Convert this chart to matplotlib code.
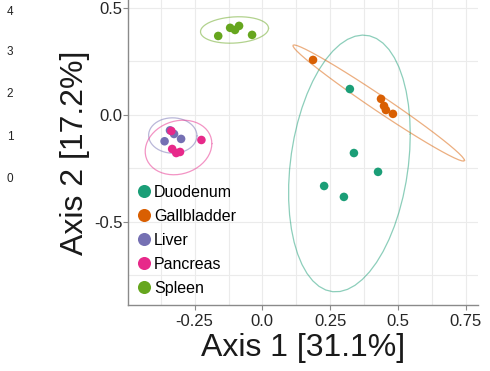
import numpy as np
import matplotlib
matplotlib.use("Agg")
import matplotlib.pyplot as plt
from matplotlib.lines import Line2D

plt.rcParams['font.family'] = ['Liberation Sans', 'DejaVu Sans']

groups = ["Duodenum", "Gallbladder", "Liver", "Pancreas", "Spleen"]
colors = ["#1B9E77", "#D95F02", "#7570B3", "#E7298A", "#66A61E"]

duodenum_x = [0.323, 0.338, 0.228, 0.301, 0.427]
duodenum_y = [0.121, -0.178, -0.332, -0.383, -0.266]
gallbladder_x = [0.187, 0.438, 0.449, 0.456, 0.482]
gallbladder_y = [0.257, 0.075, 0.042, 0.023, 0.005]
liver_x = [-0.361, -0.326, -0.300, -0.341]
liver_y = [-0.123, -0.089, -0.112, -0.072]
pancreas_x = [-0.336, -0.225, -0.333, -0.318, -0.304]
pancreas_y = [-0.075, -0.117, -0.159, -0.178, -0.173]
spleen_x = [-0.163, -0.119, -0.101, -0.086, -0.038]
spleen_y = [0.369, 0.407, 0.397, 0.416, 0.374]

xs = [duodenum_x, gallbladder_x, liver_x, pancreas_x, spleen_x]
ys = [duodenum_y, gallbladder_y, liver_y, pancreas_y, spleen_y]

x_ticks = [-0.25, 0.0, 0.25, 0.5, 0.75]
x_ticklabels = ["-0.25", "0.0", "0.25", "0.5", "0.75"]
y_ticks = [-0.5, 0.0, 0.5]
y_ticklabels = ["-0.5", "0.0", "0.5"]
side_labels = ["4", "3", "2", "1", "0"]

F95 = {2: 19.0, 3: 9.552, 4: 6.944, 5: 5.786, 6: 5.143}  # qf(0.95, 2, df)


def cov_trob(x, nu=5, maxit=25, tol=0.01):
    n, p = x.shape
    wt = np.ones(n)
    loc = (wt[:, None] * x).sum(0) / wt.sum()
    w = np.sqrt(wt)
    X = x - loc
    for _ in range(maxit):
        w0 = w
        X = x - loc
        A = np.sqrt(w / w.sum())[:, None] * X
        _, d, vt = np.linalg.svd(A, full_matrices=False)
        wX = X @ vt.T @ np.diag(1.0 / d)
        Q = (wX ** 2).sum(1)
        w = (wt * (nu + p)) / (nu + Q)
        loc = (w[:, None] * x).sum(0) / w.sum()
        if np.all(np.abs(w - w0) < tol):
            break
    cov = (np.sqrt(w)[:, None] * X).T @ (np.sqrt(w)[:, None] * X) / wt.sum()
    return cov, loc


def ellipse_pts(x, y, segments=51):
    data = np.column_stack([x, y])
    cov, center = cov_trob(data)
    n = len(x)
    radius = np.sqrt(2 * F95[n - 1])
    ang = np.arange(segments + 1) * 2 * np.pi / segments
    unit = np.column_stack([np.cos(ang), np.sin(ang)])
    R = np.linalg.cholesky(cov).T
    pts = center + radius * unit @ R
    return pts[:, 0], pts[:, 1]


fig = plt.figure(figsize=(4.9, 3.71), dpi=100)
ax = fig.add_axes([128 / 490, 66 / 371, 350 / 490, 305 / 371])

for gx, gy, c in zip(xs, ys, colors):
    ex, ey = ellipse_pts(np.array(gx), np.array(gy))
    ax.plot(ex, ey, color=c, alpha=0.5, lw=0.9, zorder=2)
for gx, gy, c in zip(xs, ys, colors):
    ax.scatter(gx, gy, s=38, color=c, edgecolors='none', zorder=3)

ax.set_xlim(-0.496, 0.796)
ax.set_ylim(-0.888, 0.537)
ax.set_xticks(x_ticks)
ax.set_xticklabels(x_ticklabels)
ax.set_yticks(y_ticks)
ax.set_yticklabels(y_ticklabels)
ax.set_xticks(np.arange(-0.375, 0.8, 0.25), minor=True)
ax.set_yticks([-0.75, -0.25, 0.25], minor=True)
ax.grid(True, which='both', color='#EBEBEB', lw=0.8, zorder=0)
ax.set_axisbelow(True)
ax.tick_params(which='minor', length=0)
ax.tick_params(axis='both', which='major', labelsize=12, colors='#8a8a8a',
               labelcolor='#262626', length=3.5, width=0.8)
ax.tick_params(axis='x', pad=3)
ax.tick_params(axis='y', pad=0.5)
for s in ['top', 'right']:
    ax.spines[s].set_visible(False)
for s in ['left', 'bottom']:
    ax.spines[s].set_color('#8a8a8a')
    ax.spines[s].set_linewidth(1.0)

ax.set_xlabel("Axis 1 [31.1%]", fontsize=23, color='#1a1a1a', labelpad=3)
ax.set_ylabel("Axis 2 [17.2%]", fontsize=23, color='#1a1a1a', labelpad=3)

handles = [Line2D([], [], marker='o', linestyle='none', markersize=9.4,
                  markerfacecolor=c, markeredgecolor='none') for c in colors]
ax.legend(handles, groups, loc='lower left', bbox_to_anchor=(0.026, 0.03),
          frameon=False, fontsize=11.5, handlelength=0.9, handletextpad=0.15,
          labelspacing=0.56, borderpad=0, borderaxespad=0)

for lab, yp in zip(side_labels, [12, 52, 94, 137, 179]):
    fig.text(10 / 490, 1 - yp / 371, lab, fontsize=8.5, color='#222222',
             ha='center', va='center')

fig.savefig("out.png", dpi=100)
